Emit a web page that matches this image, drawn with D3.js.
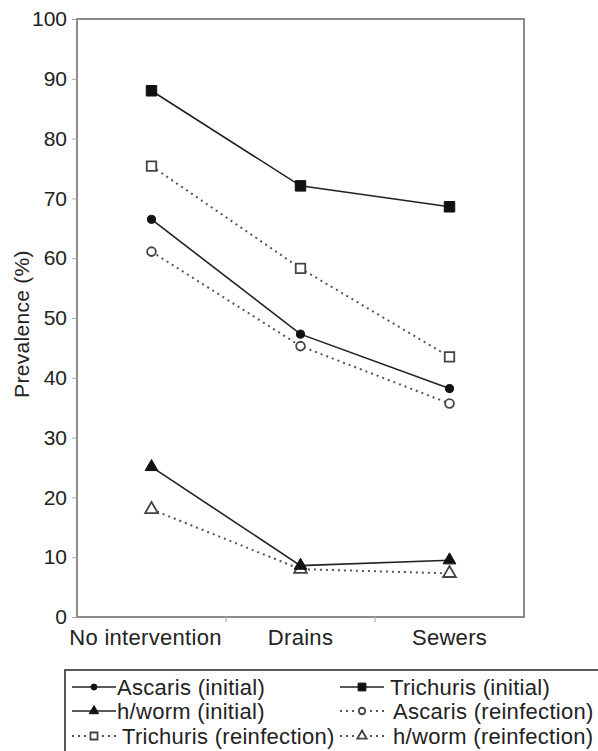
<!DOCTYPE html>
<html>
<head>
<meta charset="utf-8">
<script src="https://cdn.jsdelivr.net/npm/d3@7"></script>
<style>
body { margin: 0; background: #fff; }
text { font-family: "Liberation Sans", Arial, Helvetica, sans-serif; fill: #222; }
</style>
</head>
<body>
<div id="graphHolder"></div>
<script>
var categories = ["No intervention", "Drains", "Sewers"];
var ascarisInitial = [66.5, 47.3, 38.2];
var trichurisInitial = [88.0, 72.1, 68.6];
var hwormInitial = [25.1, 8.6, 9.5];
var ascarisReinf = [61.1, 45.3, 35.7];
var trichurisReinf = [75.4, 58.3, 43.5];
var hwormReinf = [18.0, 8.0, 7.3];
var yTicks = [0, 10, 20, 30, 40, 50, 60, 70, 80, 90, 100];

var series = [
    {name: "Ascaris (initial)", values: ascarisInitial, shape: d3.symbolCircle, size: 52, filled: true, dotted: false},
    {name: "Trichuris (initial)", values: trichurisInitial, shape: d3.symbolSquare, size: 110, filled: true, dotted: false},
    {name: "h/worm (initial)", values: hwormInitial, shape: d3.symbolTriangle, size: 70, filled: true, dotted: false},
    {name: "Ascaris (reinfection)", values: ascarisReinf, shape: d3.symbolCircle, size: 60, filled: false, dotted: true},
    {name: "Trichuris (reinfection)", values: trichurisReinf, shape: d3.symbolSquare, size: 90, filled: false, dotted: true},
    {name: "h/worm (reinfection)", values: hwormReinf, shape: d3.symbolTriangle, size: 70, filled: false, dotted: true}
];

var graphWidth = 598, graphHeight = 751;
var pLeft = 77, pRight = 524, pTop = 19, pBottom = 617;

var svg = d3.select("#graphHolder")
        .append("svg")
        .attr("width", graphWidth)
        .attr("height", graphHeight);

var x = d3.scaleBand()
        .domain(categories)
        .range([pLeft, pRight]);

var y = d3.scaleLinear()
        .domain([0, 100])
        .range([pBottom, pTop]);

function cx(c) { return x(c) + x.bandwidth() / 2; }

// frame
svg.append("rect")
        .attr("x", pLeft).attr("y", pTop)
        .attr("width", pRight - pLeft).attr("height", pBottom - pTop)
        .attr("fill", "none")
        .attr("stroke", "#8c8c8c")
        .attr("stroke-width", 2);

// y axis
var yAxis = svg.append("g")
        .attr("transform", "translate(" + pLeft + ",0)")
        .call(d3.axisLeft(y).tickValues(yTicks).tickSize(5).tickPadding(5));
yAxis.select(".domain").remove();
yAxis.selectAll(".tick line").attr("stroke", "#aaa");
yAxis.selectAll(".tick text")
        .attr("font-size", 21)
        .attr("fill", "#222")
        .style("font-family", "'Liberation Sans', Arial, sans-serif");

// x axis: labels at category centres
var xAxis = svg.append("g")
        .attr("transform", "translate(0," + pBottom + ")")
        .call(d3.axisBottom(x).tickSize(0).tickPadding(12));
xAxis.select(".domain").remove();
xAxis.selectAll(".tick text")
        .attr("font-size", 22)
        .attr("letter-spacing", 0.3)
        .attr("fill", "#222")
        .attr("dx", function (d, i) { return i === 0 ? -6 : 0; })
        .style("font-family", "'Liberation Sans', Arial, sans-serif");

// faint boundary ticks between categories
svg.selectAll(".boundary")
        .data(categories.slice(1))
        .enter().append("line")
        .attr("x1", function (d) { return x(d); })
        .attr("x2", function (d) { return x(d); })
        .attr("y1", pBottom)
        .attr("y2", pBottom + 5)
        .attr("stroke", "#bbb")
        .attr("stroke-width", 1.5);

// y label
svg.append("text")
        .attr("transform", "translate(29,324) rotate(-90)")
        .attr("text-anchor", "middle")
        .attr("font-size", 21)
        .attr("letter-spacing", 0.3)
        .text("Prevalence (%)");

var line = d3.line()
        .x(function (d, i) { return cx(categories[i]); })
        .y(function (d) { return y(d); });

function styleLine(sel, s) {
    sel.attr("fill", "none")
            .attr("stroke", s.dotted ? "#555" : "#222")
            .attr("stroke-width", s.dotted ? 2 : 1.6)
            .attr("stroke-dasharray", s.dotted ? "2,4" : null);
}

function styleMarker(sel, s) {
    sel.attr("d", d3.symbol().type(s.shape).size(s.size))
            .attr("fill", s.filled ? "#111" : "#fff")
            .attr("stroke", s.filled ? "#111" : "#444")
            .attr("stroke-width", s.filled ? 1 : 1.8);
}

// draw reinfection first so the solid series sit on top
var drawOrder = [3, 4, 5, 0, 1, 2];
drawOrder.forEach(function (k) {
    var s = series[k];
    svg.append("path")
            .datum(s.values)
            .attr("d", line)
            .call(styleLine, s);
    svg.selectAll(null)
            .data(s.values)
            .enter().append("path")
            .attr("transform", function (d, i) {
                return "translate(" + cx(categories[i]) + "," + y(d) + ")";
            })
            .call(styleMarker, s);
});

// legend
var legend = svg.append("g");
legend.append("rect")
        .attr("x", 65).attr("y", 670)
        .attr("width", 560).attr("height", 100)
        .attr("fill", "none")
        .attr("stroke", "#222")
        .attr("stroke-width", 1.5);

var colX = [72, 340];
var rowY = [687, 711, 736];
var textDx = [45, 50, 45, 53, 50, 53];

series.forEach(function (s, i) {
    var gx = colX[i % 2], gy = rowY[Math.floor(i / 2)];
    var item = legend.append("g").attr("transform", "translate(" + gx + "," + gy + ")");
    item.append("line")
            .attr("x1", 0).attr("x2", 44)
            .attr("y1", 0).attr("y2", 0)
            .call(styleLine, s);
    item.append("path")
            .attr("transform", "translate(22,0)")
            .call(styleMarker, Object.assign({}, s, {size: s.size * 0.55}));
    item.append("text")
            .attr("x", textDx[i])
            .attr("y", 0)
            .attr("dy", "0.35em")
            .attr("font-size", 22)
            .attr("letter-spacing", 0.3)
            .text(s.name);
});
</script>
</body>
</html>
